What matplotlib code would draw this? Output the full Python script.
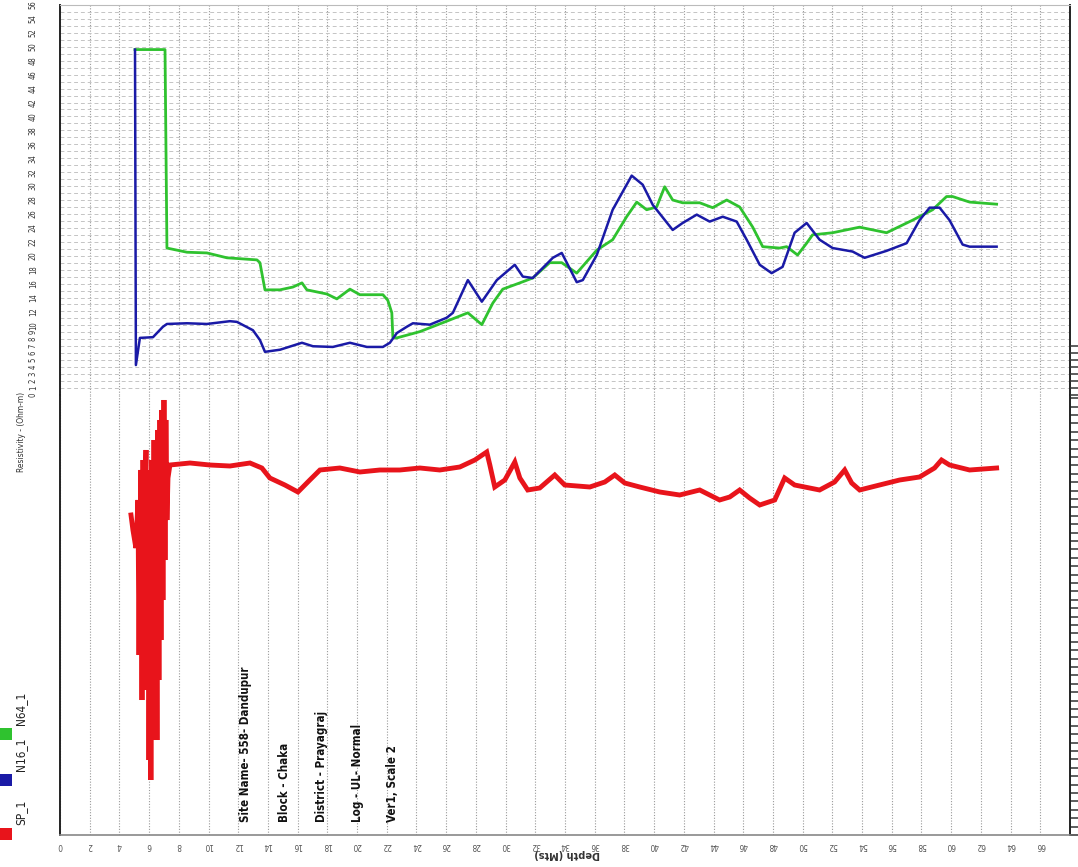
import matplotlib
matplotlib.use("Agg")
import matplotlib.pyplot as plt
import numpy as np
from matplotlib.patches import Rectangle

# ---------------- data ----------------
n16_depth = [5.05, 5.11, 5.38, 6.26, 6.93, 7.20, 8.55, 9.89, 11.44, 11.91, 12.99, 13.46, 13.80,
             14.81, 16.29, 17.03, 18.37, 19.52, 20.66, 21.74, 22.21, 22.68, 23.35, 23.76, 24.90,
             26.04, 26.45, 27.46, 28.40, 29.41, 30.62, 31.16, 31.83, 33.18, 33.78, 34.12, 34.79,
             35.20, 36.14, 37.21, 38.49, 39.23, 39.91, 41.25, 41.92, 42.87, 43.74, 44.62, 45.56,
             46.23, 47.11, 47.91, 48.65, 49.46, 50.27, 51.14, 52.02, 53.36, 54.17, 55.65, 57.00,
             57.87, 58.55, 59.22, 59.89, 60.77, 61.24, 63.06]
n16_res = [49.6, 4.3, 8.2, 8.3, 9.8, 10.2, 10.3, 10.2, 10.6, 10.5, 9.3, 7.9, 6.2,
           6.5, 7.5, 7.0, 6.9, 7.5, 6.9, 6.9, 7.5, 8.9, 9.8, 10.3, 10.1,
           11.1, 11.8, 16.5, 13.4, 16.5, 18.7, 17.0, 16.8, 19.7, 20.4, 19.0, 16.2,
           16.5, 20.1, 26.6, 31.5, 30.2, 27.3, 23.7, 24.7, 25.9, 24.9, 25.6, 24.9,
           22.3, 18.7, 17.5, 18.4, 23.3, 24.7, 22.3, 21.1, 20.6, 19.7, 20.7, 21.8,
           25.1, 26.9, 26.9, 25.1, 21.6, 21.3, 21.3]

n64_depth = [5.05, 7.07, 7.20, 8.55, 9.89, 11.24, 13.26, 13.46, 13.80, 14.81, 15.68, 16.29,
             16.62, 17.97, 18.64, 19.52, 20.19, 21.74, 22.07, 22.34, 22.41, 22.68, 24.23, 26.04,
             27.46, 28.40, 29.14, 29.81, 30.96, 31.83, 32.97, 33.78, 34.79, 36.14, 37.21, 38.15,
             38.83, 39.50, 40.17, 40.71, 41.25, 41.92, 43.07, 43.94, 44.89, 45.76, 46.64, 47.31,
             48.45, 48.92, 49.66, 50.27, 50.67, 52.02, 53.83, 55.65, 57.40, 58.75, 59.69, 60.09,
             61.24, 63.06]
n64_res = [49.6, 49.6, 21.1, 20.5, 20.4, 19.7, 19.4, 19.0, 15.1, 15.1, 15.5, 16.1,
           15.1, 14.5, 13.8, 15.2, 14.4, 14.4, 13.6, 11.8, 8.3, 8.2, 9.1, 10.6,
           11.8, 10.1, 13.2, 15.2, 16.1, 16.8, 19.0, 19.0, 17.5, 20.8, 22.3, 25.6,
           27.7, 26.6, 27.0, 29.9, 28.0, 27.6, 27.6, 26.9, 28.0, 27.0, 24.1, 21.3,
           21.1, 21.3, 20.1, 21.8, 23.0, 23.3, 24.1, 23.3, 25.1, 26.6, 28.5, 28.5,
           27.7, 27.4]

sp_depth = [4.78, 4.91, 5.11, 5.25, 5.32, 5.38, 5.45, 5.52, 5.59, 5.65, 5.72, 5.79, 5.85, 5.92,
            5.99, 6.06, 6.12, 6.19, 6.26, 6.33, 6.39, 6.46, 6.53, 6.59, 6.66, 6.73, 6.80, 6.86,
            6.93, 7.00, 7.07, 7.13, 7.20, 7.27,
            7.40, 8.75, 10.09, 11.44, 12.79, 13.59, 14.13, 15.14, 16.02, 16.82, 17.50, 18.84,
            20.19, 21.53, 22.88, 24.23, 25.57, 26.92, 27.93, 28.73, 28.94, 29.27, 29.95, 30.62,
            30.96, 31.49, 32.30, 33.31, 33.98, 35.67, 36.68, 37.35, 38.02, 39.03, 40.38, 41.72,
            43.07, 44.41, 45.09, 45.76, 46.43, 47.11, 48.12, 48.79, 49.46, 51.14, 52.15, 52.83,
            53.30, 53.84, 55.18, 56.53, 57.87, 58.88, 59.35, 59.89, 61.24, 63.06]
sp_val = [32.0, 30.5, 28.7, 33.5, 18.0, 30.5, 36.5, 13.5, 37.5, 19.5, 33.5, 38.5, 14.5, 36.5,
          7.5, 33.5, 5.5, 37.5, 9.5, 39.5, 13.5, 36.5, 9.5, 40.5, 15.5, 41.5, 19.5, 42.5,
          23.5, 43.5, 27.5, 41.5, 31.5, 35.7,
          37.0, 37.2, 37.0, 36.9, 37.2, 36.7, 35.7, 35.0, 34.3, 35.5, 36.5, 36.7,
          36.3, 36.5, 36.5, 36.7, 36.5, 36.8, 37.5, 38.3, 37.0, 34.8, 35.5, 37.3,
          35.7, 34.5, 34.7, 36.0, 35.0, 34.8, 35.3, 36.0, 35.2, 34.8, 34.3, 34.0,
          34.5, 33.5, 33.8, 34.5, 33.7, 33.0, 33.5, 35.7, 35.0, 34.5, 35.3, 36.5,
          35.2, 34.5, 35.0, 35.5, 35.8, 36.7, 37.5, 37.0, 36.5, 36.7]

depth_ticks = list(range(0, 67, 2))
res_ticks = list(range(0, 11)) + list(range(12, 57, 2))

legend_names = ["SP_1", "N16_1", "N64_1"]
legend_colors = ["#e8141b", "#1a1aa6", "#2fc22f"]

info_lines = ["Site Name- 558- Dandupur", "Block - Chaka", "District - Prayagraj",
              "Log - UL- Normal", "Ver1, Scale 2"]

# ---------------- figure ----------------
W, H = 1078, 867
fig = plt.figure(figsize=(W / 100, H / 100), dpi=100)
fig.patch.set_facecolor("white")
COND = dict(family="DejaVu Sans", fontstretch="condensed")

def fx(px):
    return px / W

def fy(py):
    return 1 - py / H

left, right = 60, 1070
ax_top = fig.add_axes([fx(left), fy(395), fx(right - left), (395 - 5) / H])
ax_bot = fig.add_axes([fx(left), fy(835), fx(right - left), (835 - 395) / H], sharex=ax_top)

for ax in (ax_top, ax_bot):
    ax.set_facecolor("none")
    ax.set_xlim(0, 68)
    ax.set_xticks(depth_ticks)
    ax.grid(axis="x", color="#9a9a9a", linestyle=(0, (1, 1.5)), linewidth=0.8)
    ax.set_axisbelow(True)

# upper panel
ax_top.set_ylim(0, 56)
ax_top.set_yticks(res_ticks)
ax_top.set_yticks(np.arange(0, 57, 1), minor=True)
ax_top.grid(axis="y", which="both", color="#c4c4c4", linestyle=(0, (4, 3)), linewidth=0.7)
ax_top.tick_params(axis="y", which="both", left=False, length=0, pad=16,
                   labelsize=5.5, labelcolor="#333333", labelrotation=90)
ax_top.set_yticklabels([str(t) for t in res_ticks], **COND)
for lab in ax_top.get_yticklabels():
    lab.set_verticalalignment("center")
ax_top.tick_params(axis="x", bottom=False, labelbottom=False)
ax_top.spines["bottom"].set_visible(False)
ax_top.spines["top"].set_color("#bbbbbb")
for s in ("left", "right"):
    ax_top.spines[s].set_color("#222222")
    ax_top.spines[s].set_linewidth(1.4)

# right ticks at lower part of upper panel
rax = ax_top.twinx()
rax.set_ylim(0, 56)
rax.set_yticks(np.arange(0, 8, 1))
rax.tick_params(axis="y", right=True, direction="out", length=7, width=1.1,
                color="#333333", labelright=False)
for s in rax.spines.values():
    s.set_visible(False)

ax_top.plot(n64_depth, n64_res, color=legend_colors[2], linewidth=2.0, zorder=3)
ax_top.plot(n16_depth, n16_res, color=legend_colors[1], linewidth=1.8, zorder=4)

# lower panel
ax_bot.set_ylim(0, 44)
ax_bot.set_yticks(np.arange(0, 44.01, 0.84))
ax_bot.tick_params(axis="y", left=False, labelleft=False, right=True, direction="out",
                   length=7, width=1.1, color="#333333")
ax_bot.tick_params(axis="x", bottom=False, length=0, pad=4, labelsize=6,
                   labelcolor="#555555", labelrotation=180)
ax_bot.set_xticklabels([str(t) for t in depth_ticks], **COND)
ax_bot.spines["top"].set_visible(False)
for s in ("left", "right"):
    ax_bot.spines[s].set_color("#222222")
    ax_bot.spines[s].set_linewidth(1.4)
ax_bot.spines["bottom"].set_color("#888888")
ax_bot.spines["bottom"].set_linewidth(1.2)

ax_bot.plot(sp_depth, sp_val, color=legend_colors[0], linewidth=3.5, zorder=3,
            solid_joinstyle="miter")

# axis labels
fig.text(fx(567), fy(854), "Depth (Mts)", rotation=180, ha="center", va="center",
         fontsize=7, fontweight="bold", color="#333333")
fig.text(fx(22), fy(432), "Resistivity - (Ohm-m)", rotation=90, ha="center", va="center",
         fontsize=6, color="#333333", **COND)

# legend (rotated)
leg_y = [840, 786, 740]
for name, col, yb in zip(legend_names, legend_colors, leg_y):
    fig.patches.append(Rectangle((fx(0), fy(yb)), fx(12), 12 / H, transform=fig.transFigure,
                                 facecolor=col, edgecolor="none"))
    fig.text(fx(21), fy(yb - 15), name, rotation=90, ha="center", va="bottom",
             fontsize=8.5, color="#222222", **COND)

# info annotations
info_x = [245, 285, 322, 357, 392]
for txt, xp in zip(info_lines, info_x):
    fig.text(fx(xp), fy(822), txt, rotation=90, ha="center", va="bottom",
             fontsize=8.3, fontweight="bold", color="#111111", **COND)

fig.savefig("out.png", dpi=100)
